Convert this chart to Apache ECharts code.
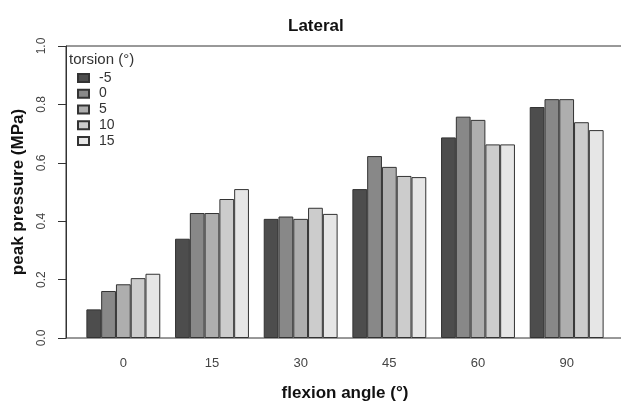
<!DOCTYPE html>
<html>
<head>
<meta charset="utf-8">
<script src="https://cdn.jsdelivr.net/npm/echarts@6/dist/echarts.min.js"></script>
<style>
html,body{margin:0;padding:0;background:#fff;}
#chart{width:621px;height:402px;}
</style>
</head>
<body>
<div id="chart"></div>
<script>
// flexion angles (x categories)
var flexion = ['0', '15', '30', '45', '60', '90'];
// torsion levels (legend)
var torsion = ['-5', '0', '5', '10', '15'];
var cores = ['#4d4d4d', '#888888', '#aeaeae', '#cccccc', '#e6e6e6'];

// peak pressure (MPa) per torsion, one value per flexion angle
var tMenos5 = [0.098, 0.340, 0.408, 0.510, 0.687, 0.791];
var t0      = [0.161, 0.428, 0.416, 0.623, 0.758, 0.818];
var t5      = [0.184, 0.428, 0.408, 0.586, 0.747, 0.818];
var t10     = [0.205, 0.476, 0.446, 0.555, 0.663, 0.739];
var t15     = [0.220, 0.510, 0.425, 0.551, 0.663, 0.712];
var valores = [tMenos5, t0, t5, t10, t15];

var fonte = 'Liberation Sans, Arial, sans-serif';

window.addEventListener('load', start);

function start(){
    var myChart = echarts.init(document.getElementById('chart'), null, {renderer: 'canvas'});

    var series = torsion.map(function (nome, i) {
        return {
            name: nome,
            type: 'bar',
            xAxisIndex: 0,
            yAxisIndex: 0,
            data: valores[i],
            barGap: '0%',
            barCategoryGap: '16.67%',
            itemStyle: {
                color: cores[i],
                borderColor: '#333',
                borderWidth: 1
            },
            emphasis: {disabled: true},
            silent: true
        };
    });

    var option = {
        animation: false,
        textStyle: {fontFamily: fonte},
        title: [
            {
                text: 'Lateral',
                left: 283,
                top: 13,
                textStyle: {fontSize: 17, fontWeight: 'bold', color: '#111', fontFamily: fonte}
            },
            {
                text: 'torsion (°)',
                left: 64,
                top: 47,
                textStyle: {fontSize: 15, fontWeight: 'normal', color: '#333', fontFamily: fonte}
            }
        ],
        legend: {
            data: torsion,
            orient: 'vertical',
            left: 72,
            top: 65,
            itemWidth: 11,
            itemHeight: 8,
            itemGap: 0,
            icon: 'rect',
            selectedMode: false,
            textStyle: {fontSize: 14, color: '#333', lineHeight: 15.75, padding: [0, 0, 0, 5], fontFamily: fonte}
        },
        grid: [
            {left: 79, right: 10, top: 46, bottom: 64, containLabel: false, outerBoundsMode: 'none'},
            {left: 66, width: 570, top: 46, bottom: 64, show: true, borderColor: '#333', borderWidth: 1,
                backgroundColor: 'transparent', outerBoundsMode: 'none'}
        ],
        xAxis: [
            {
                type: 'category',
                gridIndex: 0,
                data: flexion,
                axisLine: {show: false},
                axisTick: {show: false},
                axisLabel: {fontSize: 13, color: '#444', margin: 19, fontFamily: fonte},
                name: 'flexion angle (°)',
                nameLocation: 'middle',
                nameGap: 47,
                nameTextStyle: {fontSize: 17, fontWeight: 'bold', color: '#111', fontFamily: fonte}
            },
            {type: 'value', gridIndex: 1, show: false}
        ],
        yAxis: [
            {
                type: 'value',
                gridIndex: 0,
                min: 0,
                max: 1,
                interval: 0.2,
                offset: 13,
                axisLine: {show: true, lineStyle: {color: '#333', width: 1}},
                axisTick: {show: true, length: 8, lineStyle: {color: '#333'}},
                splitLine: {show: false},
                axisLabel: {
                    fontSize: 12,
                    color: '#444',
                    rotate: 90,
                    margin: 18,
                    fontFamily: fonte,
                    formatter: function (v) { return v.toFixed(1); }
                },
                name: 'peak pressure (MPa)',
                nameLocation: 'middle',
                nameGap: 39,
                nameTextStyle: {fontSize: 17, fontWeight: 'bold', color: '#111', fontFamily: fonte}
            },
            {type: 'value', gridIndex: 1, show: false}
        ],
        series: series
    };

    myChart.setOption(option);
}
</script>
</body>
</html>
